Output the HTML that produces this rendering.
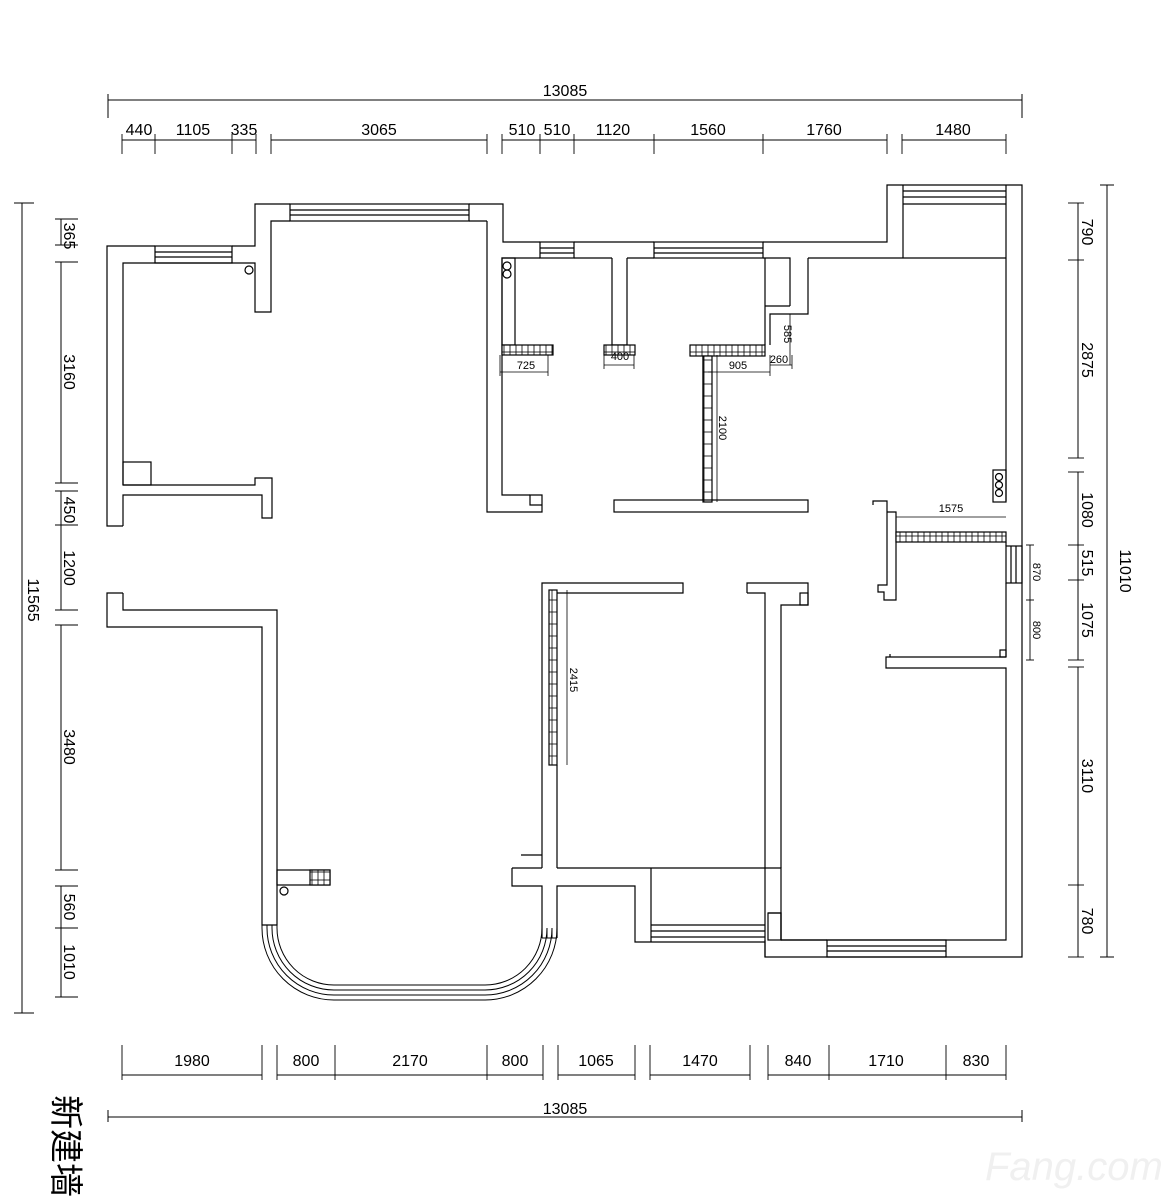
<!DOCTYPE html>
<html><head><meta charset="utf-8"><style>
html,body{margin:0;padding:0;background:#fff;}
svg{display:block;}
text{font-family:"Liberation Sans Narrow","Liberation Sans",sans-serif;fill:#000;}
</style></head><body>
<svg width="1170" height="1202" viewBox="0 0 1170 1202" xmlns="http://www.w3.org/2000/svg">
<defs>
<pattern id="hat" width="6" height="8" patternUnits="userSpaceOnUse"><rect width="6" height="8" fill="#fff" stroke="#000" stroke-width="0.8"/></pattern>
<pattern id="hatv" width="8" height="12" patternUnits="userSpaceOnUse"><rect width="8" height="12" fill="#fff" stroke="#000" stroke-width="0.8"/></pattern>
</defs>
<g stroke="#000" stroke-width="1" fill="none">
<line x1="108" y1="100" x2="1022" y2="100"/>
<line x1="108" y1="94" x2="108" y2="118"/><line x1="1022" y1="94" x2="1022" y2="118"/>
<line x1="122" y1="140" x2="256" y2="140"/><line x1="271" y1="140" x2="487" y2="140"/>
<line x1="502" y1="140" x2="887" y2="140"/><line x1="902" y1="140" x2="1006" y2="140"/>
<g stroke-width="0.9">
<line x1="122" y1="134" x2="122" y2="154"/><line x1="155" y1="134" x2="155" y2="154"/><line x1="232" y1="134" x2="232" y2="154"/><line x1="256" y1="134" x2="256" y2="154"/>
<line x1="271" y1="134" x2="271" y2="154"/><line x1="487" y1="134" x2="487" y2="154"/>
<line x1="502" y1="134" x2="502" y2="154"/><line x1="540" y1="134" x2="540" y2="154"/><line x1="574" y1="134" x2="574" y2="154"/><line x1="654" y1="134" x2="654" y2="154"/><line x1="763" y1="134" x2="763" y2="154"/><line x1="887" y1="134" x2="887" y2="154"/>
<line x1="902" y1="134" x2="902" y2="154"/><line x1="1006" y1="134" x2="1006" y2="154"/>
</g>
<line x1="122" y1="1075" x2="262" y2="1075"/><line x1="277" y1="1075" x2="543" y2="1075"/>
<line x1="558" y1="1075" x2="635" y2="1075"/><line x1="650" y1="1075" x2="750" y2="1075"/>
<line x1="768" y1="1075" x2="1006" y2="1075"/>
<g stroke-width="0.9">
<line x1="122" y1="1045" x2="122" y2="1080"/><line x1="262" y1="1045" x2="262" y2="1080"/><line x1="277" y1="1045" x2="277" y2="1080"/><line x1="335" y1="1045" x2="335" y2="1080"/><line x1="487" y1="1045" x2="487" y2="1080"/><line x1="543" y1="1045" x2="543" y2="1080"/>
<line x1="558" y1="1045" x2="558" y2="1080"/><line x1="635" y1="1045" x2="635" y2="1080"/><line x1="650" y1="1045" x2="650" y2="1080"/><line x1="750" y1="1045" x2="750" y2="1080"/>
<line x1="768" y1="1045" x2="768" y2="1080"/><line x1="829" y1="1045" x2="829" y2="1080"/><line x1="946" y1="1045" x2="946" y2="1080"/><line x1="1006" y1="1045" x2="1006" y2="1080"/>
</g>
<line x1="108" y1="1117" x2="1022" y2="1117"/>
<line x1="108" y1="1110" x2="108" y2="1122"/><line x1="1022" y1="1110" x2="1022" y2="1122"/>
<line x1="22" y1="203" x2="22" y2="1013"/>
<line x1="14" y1="203" x2="34" y2="203"/><line x1="14" y1="1013" x2="34" y2="1013"/>
<line x1="61" y1="219" x2="61" y2="245"/><line x1="61" y1="262" x2="61" y2="483"/><line x1="61" y1="491" x2="61" y2="610"/><line x1="61" y1="625" x2="61" y2="870"/><line x1="61" y1="886" x2="61" y2="997"/>
<g stroke-width="0.9">
<line x1="55" y1="219" x2="78" y2="219"/><line x1="55" y1="245" x2="78" y2="245"/><line x1="55" y1="262" x2="78" y2="262"/><line x1="55" y1="483" x2="78" y2="483"/><line x1="55" y1="491" x2="78" y2="491"/><line x1="55" y1="525" x2="78" y2="525"/><line x1="55" y1="610" x2="78" y2="610"/><line x1="55" y1="625" x2="78" y2="625"/><line x1="55" y1="870" x2="78" y2="870"/><line x1="55" y1="886" x2="78" y2="886"/><line x1="55" y1="928" x2="78" y2="928"/><line x1="55" y1="997" x2="78" y2="997"/>
</g>
<line x1="1107" y1="185" x2="1107" y2="957"/>
<line x1="1100" y1="185" x2="1114" y2="185"/><line x1="1100" y1="957" x2="1114" y2="957"/>
<line x1="1078" y1="203" x2="1078" y2="458"/><line x1="1078" y1="472" x2="1078" y2="660"/><line x1="1078" y1="667" x2="1078" y2="957"/>
<g stroke-width="0.9">
<line x1="1068" y1="203" x2="1084" y2="203"/><line x1="1068" y1="260" x2="1084" y2="260"/><line x1="1068" y1="458" x2="1084" y2="458"/><line x1="1068" y1="472" x2="1084" y2="472"/><line x1="1068" y1="545" x2="1084" y2="545"/><line x1="1068" y1="580" x2="1084" y2="580"/><line x1="1068" y1="660" x2="1084" y2="660"/><line x1="1068" y1="667" x2="1084" y2="667"/><line x1="1068" y1="885" x2="1084" y2="885"/><line x1="1068" y1="957" x2="1084" y2="957"/>
<line x1="1030" y1="545" x2="1030" y2="660"/><line x1="1026" y1="545" x2="1034" y2="545"/><line x1="1026" y1="600" x2="1034" y2="600"/><line x1="1026" y1="660" x2="1034" y2="660"/>
</g>
</g>

<g stroke="#000" stroke-width="1.2" fill="none">
<polyline points="123,526 107,526 107,246 155,246"/>
<polyline points="232,246 255,246 255,204 290,204"/>
<polyline points="469,204 503,204 503,242 540,242"/>
<polyline points="123,485 123,263 255,263 255,312 271,312 271,221 290,221"/>
<rect x="155" y="246" width="77" height="17"/><line x1="155" y1="252" x2="232" y2="252"/><line x1="155" y1="257" x2="232" y2="257"/>
<rect x="290" y="204" width="179" height="17"/><line x1="290" y1="210" x2="469" y2="210"/><line x1="290" y1="215" x2="469" y2="215"/>
<line x1="469" y1="221" x2="487" y2="221"/>
<circle cx="249" cy="270" r="4"/>
<rect x="123" y="462" width="28" height="23"/>
<polyline points="123,485 255,485 255,478 272,478 272,518 262,518 262,495 123,495 123,526"/>
<polyline points="487,221 487,512 542,512 542,495 530,495 530,505 542,505"/>
<polyline points="530,495 502,495 502,258 540,258"/>
<rect x="502" y="258" width="13" height="87"/><circle cx="507" cy="266" r="4"/><circle cx="507" cy="274" r="4"/>
<rect x="502" y="345" width="51" height="10" fill="url(#hat)"/>
<rect x="540" y="242" width="34" height="16"/><line x1="540" y1="248" x2="574" y2="248"/><line x1="540" y1="253" x2="574" y2="253"/>
<line x1="574" y1="242" x2="654" y2="242"/><line x1="574" y1="258" x2="612" y2="258"/><line x1="627" y1="258" x2="654" y2="258"/>
<rect x="654" y="242" width="109" height="16"/><line x1="654" y1="248" x2="763" y2="248"/><line x1="654" y1="253" x2="763" y2="253"/>
<polyline points="612,258 612,345 627,345 627,258"/>
<rect x="604" y="345" width="31" height="10" fill="url(#hat)"/>
<polyline points="763,242 887,242 887,185 1022,185 1022,957 765,957 765,940"/>
<polyline points="763,258 790,258 790,306"/>
<polyline points="808,258 808,314 770,314 770,345"/>
<line x1="765" y1="258" x2="765" y2="345"/>
<line x1="765" y1="306" x2="790" y2="306"/>
<line x1="808" y1="258" x2="903" y2="258"/>
<line x1="903" y1="185" x2="903" y2="258"/><line x1="903" y1="258" x2="1006" y2="258"/>
<line x1="903" y1="191" x2="1006" y2="191"/><line x1="903" y1="197" x2="1006" y2="197"/><line x1="903" y1="204" x2="1006" y2="204"/>
<line x1="1006" y1="185" x2="1006" y2="501"/>
<rect x="690" y="345" width="75" height="11" fill="url(#hat)"/>
<rect x="703" y="356" width="9" height="146" fill="url(#hatv)"/>
<line x1="703" y1="356" x2="703" y2="500"/>
<rect x="614" y="500" width="194" height="12"/>
<rect x="993" y="470" width="13" height="32"/><circle cx="999" cy="477" r="3.5"/><circle cx="999" cy="485" r="3.5"/><circle cx="999" cy="493" r="3.5"/>
<polyline points="873,505 873,501 887,501 887,512 896,512 896,600 884,600 884,592 878,592 878,585 887,585 887,512"/>
<rect x="896" y="532" width="110" height="10" fill="url(#hat)"/>
<line x1="1006" y1="542" x2="1006" y2="546"/>
<rect x="1006" y="546" width="16" height="37"/><line x1="1011" y1="546" x2="1011" y2="583"/><line x1="1016" y1="546" x2="1016" y2="583"/>
<line x1="1006" y1="583" x2="1006" y2="657"/>
<polyline points="890,657 886,657 886,668 1006,668 1006,940 781,940 781,913 768,913"/>
<line x1="890" y1="654" x2="890" y2="657"/><line x1="890" y1="657" x2="1006" y2="657"/>
<rect x="1000" y="650" width="6" height="7"/>
<polyline points="542,868 542,583 683,583 683,593 557,593"/>
<line x1="521" y1="855" x2="542" y2="855"/>
<rect x="549" y="590" width="8" height="175" fill="url(#hatv)"/>
<line x1="557" y1="765" x2="557" y2="868"/>
<polyline points="512,868 512,886 542,886 542,938"/>
<line x1="512" y1="868" x2="542" y2="868"/>
<line x1="557" y1="868" x2="765" y2="868"/>
<polyline points="557,938 557,886 635,886 635,942 651,942"/>
<line x1="651" y1="868" x2="651" y2="942"/>
<line x1="651" y1="925" x2="765" y2="925"/><line x1="651" y1="931" x2="765" y2="931"/><line x1="651" y1="937" x2="765" y2="937"/>
<line x1="651" y1="942" x2="765" y2="942"/>
<polyline points="747,593 747,583 808,583 808,605 781,605 781,868"/>
<rect x="800" y="593" width="8" height="12"/>
<polyline points="747,593 765,593 765,957"/>
<polyline points="765,868 781,868 781,940"/>
<rect x="768" y="913" width="13" height="27"/>
<line x1="781" y1="940" x2="827" y2="940"/>
<rect x="827" y="940" width="119" height="17"/><line x1="827" y1="946" x2="946" y2="946"/><line x1="827" y1="951" x2="946" y2="951"/>
<polyline points="123,593 107,593 107,627 262,627 262,925 277,925 277,610 123,610 123,593"/>
<rect x="277" y="870" width="53" height="15"/>
<rect x="310" y="870" width="20" height="15" fill="url(#hat)"/>
<circle cx="284" cy="891" r="4"/>
</g>
<g stroke="#000" stroke-width="1" fill="none">
<path d="M262,925 V928 A72,72 0 0 0 334,1000 H485 A72,72 0 0 0 557,928 V938"/>
<path d="M267,925 V928 A67,67 0 0 0 334,995 H485 A67,67 0 0 0 552,928 V938"/>
<path d="M272,925 V928 A62,62 0 0 0 334,990 H485 A62,62 0 0 0 547,928 V938"/>
<path d="M277,925 V928 A57,57 0 0 0 334,985 H485 A57,57 0 0 0 542,928 V938"/>
<line x1="542" y1="938" x2="557" y2="938"/>
</g>
<g stroke="#000" stroke-width="0.8" fill="none">
<line x1="500" y1="372" x2="548" y2="372"/><line x1="500" y1="355" x2="500" y2="376"/><line x1="548" y1="355" x2="548" y2="376"/>
<line x1="604" y1="365" x2="634" y2="365"/><line x1="604" y1="355" x2="604" y2="369"/><line x1="634" y1="355" x2="634" y2="369"/>
<line x1="708" y1="372" x2="770" y2="372"/><line x1="770" y1="355" x2="770" y2="376"/>
<line x1="770" y1="365" x2="792" y2="365"/><line x1="792" y1="355" x2="792" y2="369"/>
<line x1="790" y1="314" x2="790" y2="365"/>
<line x1="717" y1="355" x2="717" y2="502"/>
<line x1="567" y1="590" x2="567" y2="765"/>
<line x1="896" y1="517" x2="1006" y2="517"/>
</g>
<g font-size="16">
<text x="565" y="96" text-anchor="middle">13085</text>
<text x="139" y="135" text-anchor="middle">440</text>
<text x="193" y="135" text-anchor="middle">1105</text>
<text x="244" y="135" text-anchor="middle">335</text>
<text x="379" y="135" text-anchor="middle">3065</text>
<text x="522" y="135" text-anchor="middle">510</text>
<text x="557" y="135" text-anchor="middle">510</text>
<text x="613" y="135" text-anchor="middle">1120</text>
<text x="708" y="135" text-anchor="middle">1560</text>
<text x="824" y="135" text-anchor="middle">1760</text>
<text x="953" y="135" text-anchor="middle">1480</text>
<text x="192" y="1066" text-anchor="middle">1980</text>
<text x="306" y="1066" text-anchor="middle">800</text>
<text x="410" y="1066" text-anchor="middle">2170</text>
<text x="515" y="1066" text-anchor="middle">800</text>
<text x="596" y="1066" text-anchor="middle">1065</text>
<text x="700" y="1066" text-anchor="middle">1470</text>
<text x="798" y="1066" text-anchor="middle">840</text>
<text x="886" y="1066" text-anchor="middle">1710</text>
<text x="976" y="1066" text-anchor="middle">830</text>
<text x="565" y="1114" text-anchor="middle">13085</text>
<text transform="translate(28,600) rotate(90)" text-anchor="middle">11565</text>
<text transform="translate(64,236) rotate(90)" text-anchor="middle">365</text>
<text transform="translate(64,372) rotate(90)" text-anchor="middle">3160</text>
<text transform="translate(64,510) rotate(90)" text-anchor="middle">450</text>
<text transform="translate(64,568) rotate(90)" text-anchor="middle">1200</text>
<text transform="translate(64,747) rotate(90)" text-anchor="middle">3480</text>
<text transform="translate(64,907) rotate(90)" text-anchor="middle">560</text>
<text transform="translate(64,962) rotate(90)" text-anchor="middle">1010</text>
<text transform="translate(1082,232) rotate(90)" text-anchor="middle">790</text>
<text transform="translate(1082,360) rotate(90)" text-anchor="middle">2875</text>
<text transform="translate(1082,510) rotate(90)" text-anchor="middle">1080</text>
<text transform="translate(1082,563) rotate(90)" text-anchor="middle">515</text>
<text transform="translate(1082,620) rotate(90)" text-anchor="middle">1075</text>
<text transform="translate(1082,776) rotate(90)" text-anchor="middle">3110</text>
<text transform="translate(1082,921) rotate(90)" text-anchor="middle">780</text>
<text transform="translate(1120,571) rotate(90)" text-anchor="middle">11010</text>
</g>
<g font-size="11">
<text x="526" y="369" text-anchor="middle">725</text>
<text x="620" y="360" text-anchor="middle">400</text>
<text x="738" y="369" text-anchor="middle">905</text>
<text x="779" y="363" text-anchor="middle">260</text>
<text transform="translate(784,334) rotate(90)" text-anchor="middle">585</text>
<text transform="translate(719,428) rotate(90)" text-anchor="middle">2100</text>
<text transform="translate(570,680) rotate(90)" text-anchor="middle">2415</text>
<text x="951" y="512" text-anchor="middle">1575</text>
<text transform="translate(1033,572) rotate(90)" text-anchor="middle">870</text>
<text transform="translate(1033,630) rotate(90)" text-anchor="middle">800</text>
</g>
<text transform="translate(54,1095) rotate(90)" font-size="34" style="font-family:'Liberation Sans','Noto Sans CJK SC',sans-serif">新建墙</text>
<text x="985" y="1180" font-size="40" style="fill:#f0f0f0;font-family:'Liberation Sans',sans-serif;font-style:italic">Fang.com</text>
</svg>
</body></html>
